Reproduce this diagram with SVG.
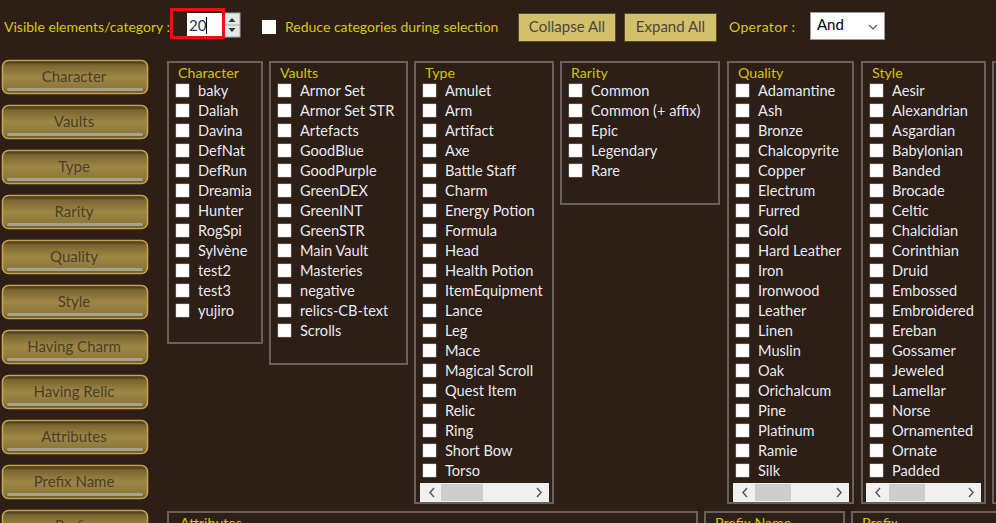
<svg xmlns="http://www.w3.org/2000/svg" width="996" height="523" viewBox="0 0 996 523">
<defs>
<linearGradient id="btn" x1="0" y1="0" x2="0" y2="1">
<stop offset="0" stop-color="#352914"/>
<stop offset="0.14" stop-color="#7a6530"/>
<stop offset="0.5" stop-color="#9e8744"/>
<stop offset="0.85" stop-color="#8c773a"/>
<stop offset="1" stop-color="#5e5028"/>
</linearGradient>
<g id="cb"><rect x="0" y="0" width="13" height="13" fill="#ffffff" stroke="#cfcfcf" stroke-width="0.5"/></g>
</defs>
<style>
.lbl{font-family:Lato,"Liberation Sans",sans-serif;font-size:14px;fill:#d9c80c}
.ttl{font-family:Lato,"Liberation Sans",sans-serif;font-size:14.2px;fill:#d7c20a}
.itm{font-family:Lato,"Liberation Sans",sans-serif;font-size:14.6px;fill:#ecebf2;paint-order:stroke;stroke:#1a1410;stroke-width:0.6px}
.bt{font-family:Lato,"Liberation Sans",sans-serif;font-size:15px;fill:#4a3f2b;text-anchor:middle}
.tb{font-family:Lato,"Liberation Sans",sans-serif;font-size:15px;fill:#4c4638;text-anchor:middle}
.pnl{fill:none;stroke:#67625c;stroke-width:2}
.sb{fill:#f0f0f0}
.th{fill:#cdcdcd}
.arr{fill:none;stroke:#606060;stroke-width:1.6}
.btnb{fill:url(#btn);stroke:#c9a24c;stroke-width:1.6}
.bar{fill:#a7a290}
</style>
<rect x="0" y="0" width="996" height="523" fill="#2d1f16"/>

<g id="toolbar">
<text class="lbl" x="4" y="32">Visible elements/category :</text>
<rect x="187" y="13" width="35" height="24" fill="#ffffff"/>
<text x="189" y="31" font-family="Lato,'Liberation Sans',sans-serif" font-size="15" fill="#2a3550">20</text>
<line x1="206.5" y1="17" x2="206.5" y2="34" stroke="#000" stroke-width="1"/>
<rect x="224" y="13" width="16" height="24" fill="#e6e6e6" stroke="#a8a8a8" stroke-width="1"/>
<line x1="224" y1="25" x2="240" y2="25" stroke="#a8a8a8" stroke-width="1"/>
<path d="M228.5 22 L232 18 L235.5 22 Z" fill="#333"/>
<path d="M228.5 28 L232 32 L235.5 28 Z" fill="#333"/>
<rect x="171.5" y="9.5" width="52" height="28" fill="none" stroke="#ee1010" stroke-width="3"/>
<rect x="262" y="20" width="14" height="14" fill="#ffffff"/>
<text class="lbl" x="285" y="32">Reduce categories during selection</text>
<g id="collapse-all"><rect x="518.5" y="13.5" width="97" height="28" fill="#d2c06c" stroke="#5a4a2c" stroke-width="1"/><text class="tb" x="567" y="32">Collapse All</text></g>
<g id="expand-all"><rect x="624.5" y="13.5" width="92" height="28" fill="#d2c06c" stroke="#5a4a2c" stroke-width="1"/><text class="tb" x="670.5" y="32">Expand All</text></g>
<text class="lbl" x="729" y="32" textLength="66">Operator :</text>
<g id="operator-select"><rect x="810.5" y="12.5" width="74" height="27" fill="#ffffff" stroke="#9a9a9a" stroke-width="1"/>
<text x="817" y="30" font-family="Lato,'Liberation Sans',sans-serif" font-size="15" fill="#000">And</text>
<path d="M869 25 L873 29 L877 25" fill="none" stroke="#555" stroke-width="1.2"/></g>
</g>

<g id="side-buttons">
<g id="btn-character"><rect class="btnb" x="2.5" y="60.5" width="145" height="33" rx="6"/><rect class="bar" x="7" y="88" width="136" height="3" rx="1.5"/><text class="bt" x="74" y="82">Character</text></g>
<g id="btn-vaults"><rect class="btnb" x="2.5" y="105.5" width="145" height="33" rx="6"/><rect class="bar" x="7" y="133" width="136" height="3" rx="1.5"/><text class="bt" x="74" y="127">Vaults</text></g>
<g id="btn-type"><rect class="btnb" x="2.5" y="150.5" width="145" height="33" rx="6"/><rect class="bar" x="7" y="178" width="136" height="3" rx="1.5"/><text class="bt" x="74" y="172">Type</text></g>
<g id="btn-rarity"><rect class="btnb" x="2.5" y="195.5" width="145" height="33" rx="6"/><rect class="bar" x="7" y="223" width="136" height="3" rx="1.5"/><text class="bt" x="74" y="217">Rarity</text></g>
<g id="btn-quality"><rect class="btnb" x="2.5" y="240.5" width="145" height="33" rx="6"/><rect class="bar" x="7" y="268" width="136" height="3" rx="1.5"/><text class="bt" x="74" y="262">Quality</text></g>
<g id="btn-style"><rect class="btnb" x="2.5" y="285.5" width="145" height="33" rx="6"/><rect class="bar" x="7" y="313" width="136" height="3" rx="1.5"/><text class="bt" x="74" y="307">Style</text></g>
<g id="btn-having-charm"><rect class="btnb" x="2.5" y="330.5" width="145" height="33" rx="6"/><rect class="bar" x="7" y="358" width="136" height="3" rx="1.5"/><text class="bt" x="74" y="352">Having Charm</text></g>
<g id="btn-having-relic"><rect class="btnb" x="2.5" y="375.5" width="145" height="33" rx="6"/><rect class="bar" x="7" y="403" width="136" height="3" rx="1.5"/><text class="bt" x="74" y="397">Having Relic</text></g>
<g id="btn-attributes"><rect class="btnb" x="2.5" y="420.5" width="145" height="33" rx="6"/><rect class="bar" x="7" y="448" width="136" height="3" rx="1.5"/><text class="bt" x="74" y="442">Attributes</text></g>
<g id="btn-prefix-name"><rect class="btnb" x="2.5" y="465.5" width="145" height="33" rx="6"/><rect class="bar" x="7" y="493" width="136" height="3" rx="1.5"/><text class="bt" x="74" y="487">Prefix Name</text></g>
<g id="btn-prefix"><rect class="btnb" x="2.5" y="510.5" width="145" height="33" rx="6"/><text class="bt" x="74" y="531">Prefix</text></g>
</g>

<g id="panel-character">
<rect class="pnl" x="168" y="62" width="94" height="281"/>
<text class="ttl" x="178" y="78">Character</text>
<use href="#cb" x="176" y="84"/><text class="itm" x="198" y="96">baky</text>
<use href="#cb" x="176" y="104"/><text class="itm" x="198" y="116">Daliah</text>
<use href="#cb" x="176" y="124"/><text class="itm" x="198" y="136">Davina</text>
<use href="#cb" x="176" y="144"/><text class="itm" x="198" y="156">DefNat</text>
<use href="#cb" x="176" y="164"/><text class="itm" x="198" y="176">DefRun</text>
<use href="#cb" x="176" y="184"/><text class="itm" x="198" y="196">Dreamia</text>
<use href="#cb" x="176" y="204"/><text class="itm" x="198" y="216">Hunter</text>
<use href="#cb" x="176" y="224"/><text class="itm" x="198" y="236">RogSpi</text>
<use href="#cb" x="176" y="244"/><text class="itm" x="198" y="256">Sylvène</text>
<use href="#cb" x="176" y="264"/><text class="itm" x="198" y="276">test2</text>
<use href="#cb" x="176" y="284"/><text class="itm" x="198" y="296">test3</text>
<use href="#cb" x="176" y="304"/><text class="itm" x="198" y="316">yujiro</text>
</g>

<g id="panel-vaults">
<rect class="pnl" x="270" y="62" width="137" height="302"/>
<text class="ttl" x="280" y="78">Vaults</text>
<use href="#cb" x="278" y="84"/><text class="itm" x="300" y="96">Armor Set</text>
<use href="#cb" x="278" y="104"/><text class="itm" x="300" y="116">Armor Set STR</text>
<use href="#cb" x="278" y="124"/><text class="itm" x="300" y="136">Artefacts</text>
<use href="#cb" x="278" y="144"/><text class="itm" x="300" y="156">GoodBlue</text>
<use href="#cb" x="278" y="164"/><text class="itm" x="300" y="176">GoodPurple</text>
<use href="#cb" x="278" y="184"/><text class="itm" x="300" y="196">GreenDEX</text>
<use href="#cb" x="278" y="204"/><text class="itm" x="300" y="216">GreenINT</text>
<use href="#cb" x="278" y="224"/><text class="itm" x="300" y="236">GreenSTR</text>
<use href="#cb" x="278" y="244"/><text class="itm" x="300" y="256">Main Vault</text>
<use href="#cb" x="278" y="264"/><text class="itm" x="300" y="276">Masteries</text>
<use href="#cb" x="278" y="284"/><text class="itm" x="300" y="296">negative</text>
<use href="#cb" x="278" y="304"/><text class="itm" x="300" y="316">relics-CB-text</text>
<use href="#cb" x="278" y="324"/><text class="itm" x="300" y="336">Scrolls</text>
</g>

<g id="panel-type">
<rect class="pnl" x="415" y="62" width="138" height="441"/>
<text class="ttl" x="425" y="78">Type</text>
<use href="#cb" x="423" y="84"/><text class="itm" x="445" y="96">Amulet</text>
<use href="#cb" x="423" y="104"/><text class="itm" x="445" y="116">Arm</text>
<use href="#cb" x="423" y="124"/><text class="itm" x="445" y="136">Artifact</text>
<use href="#cb" x="423" y="144"/><text class="itm" x="445" y="156">Axe</text>
<use href="#cb" x="423" y="164"/><text class="itm" x="445" y="176">Battle Staff</text>
<use href="#cb" x="423" y="184"/><text class="itm" x="445" y="196">Charm</text>
<use href="#cb" x="423" y="204"/><text class="itm" x="445" y="216">Energy Potion</text>
<use href="#cb" x="423" y="224"/><text class="itm" x="445" y="236">Formula</text>
<use href="#cb" x="423" y="244"/><text class="itm" x="445" y="256">Head</text>
<use href="#cb" x="423" y="264"/><text class="itm" x="445" y="276">Health Potion</text>
<use href="#cb" x="423" y="284"/><text class="itm" x="445" y="296">ItemEquipment</text>
<use href="#cb" x="423" y="304"/><text class="itm" x="445" y="316">Lance</text>
<use href="#cb" x="423" y="324"/><text class="itm" x="445" y="336">Leg</text>
<use href="#cb" x="423" y="344"/><text class="itm" x="445" y="356">Mace</text>
<use href="#cb" x="423" y="364"/><text class="itm" x="445" y="376">Magical Scroll</text>
<use href="#cb" x="423" y="384"/><text class="itm" x="445" y="396">Quest Item</text>
<use href="#cb" x="423" y="404"/><text class="itm" x="445" y="416">Relic</text>
<use href="#cb" x="423" y="424"/><text class="itm" x="445" y="436">Ring</text>
<use href="#cb" x="423" y="444"/><text class="itm" x="445" y="456">Short Bow</text>
<use href="#cb" x="423" y="464"/><text class="itm" x="445" y="476">Torso</text>
<rect class="sb" x="420" y="483" width="129" height="19"/>
<rect class="th" x="441" y="484" width="42" height="17"/>
<path class="arr" d="M434 488 L430 492.5 L434 497"/>
<path class="arr" d="M537 488 L541 492.5 L537 497"/>
</g>

<g id="panel-rarity">
<rect class="pnl" x="561" y="62" width="158" height="142"/>
<text class="ttl" x="571" y="78">Rarity</text>
<use href="#cb" x="569" y="84"/><text class="itm" x="591" y="96">Common</text>
<use href="#cb" x="569" y="104"/><text class="itm" x="591" y="116">Common (+ affix)</text>
<use href="#cb" x="569" y="124"/><text class="itm" x="591" y="136">Epic</text>
<use href="#cb" x="569" y="144"/><text class="itm" x="591" y="156">Legendary</text>
<use href="#cb" x="569" y="164"/><text class="itm" x="591" y="176">Rare</text>
</g>

<g id="panel-quality">
<rect class="pnl" x="728" y="62" width="125" height="441"/>
<text class="ttl" x="738" y="78">Quality</text>
<use href="#cb" x="736" y="84"/><text class="itm" x="758" y="96">Adamantine</text>
<use href="#cb" x="736" y="104"/><text class="itm" x="758" y="116">Ash</text>
<use href="#cb" x="736" y="124"/><text class="itm" x="758" y="136">Bronze</text>
<use href="#cb" x="736" y="144"/><text class="itm" x="758" y="156">Chalcopyrite</text>
<use href="#cb" x="736" y="164"/><text class="itm" x="758" y="176">Copper</text>
<use href="#cb" x="736" y="184"/><text class="itm" x="758" y="196">Electrum</text>
<use href="#cb" x="736" y="204"/><text class="itm" x="758" y="216">Furred</text>
<use href="#cb" x="736" y="224"/><text class="itm" x="758" y="236">Gold</text>
<use href="#cb" x="736" y="244"/><text class="itm" x="758" y="256">Hard Leather</text>
<use href="#cb" x="736" y="264"/><text class="itm" x="758" y="276">Iron</text>
<use href="#cb" x="736" y="284"/><text class="itm" x="758" y="296">Ironwood</text>
<use href="#cb" x="736" y="304"/><text class="itm" x="758" y="316">Leather</text>
<use href="#cb" x="736" y="324"/><text class="itm" x="758" y="336">Linen</text>
<use href="#cb" x="736" y="344"/><text class="itm" x="758" y="356">Muslin</text>
<use href="#cb" x="736" y="364"/><text class="itm" x="758" y="376">Oak</text>
<use href="#cb" x="736" y="384"/><text class="itm" x="758" y="396">Orichalcum</text>
<use href="#cb" x="736" y="404"/><text class="itm" x="758" y="416">Pine</text>
<use href="#cb" x="736" y="424"/><text class="itm" x="758" y="436">Platinum</text>
<use href="#cb" x="736" y="444"/><text class="itm" x="758" y="456">Ramie</text>
<use href="#cb" x="736" y="464"/><text class="itm" x="758" y="476">Silk</text>
<rect class="sb" x="733" y="483" width="116" height="19"/>
<rect class="th" x="755" y="484" width="36" height="17"/>
<path class="arr" d="M747 488 L743 492.5 L747 497"/>
<path class="arr" d="M837 488 L841 492.5 L837 497"/>
</g>

<g id="panel-style">
<rect class="pnl" x="862" y="62" width="123" height="441"/>
<text class="ttl" x="872" y="78">Style</text>
<use href="#cb" x="870" y="84"/><text class="itm" x="892" y="96">Aesir</text>
<use href="#cb" x="870" y="104"/><text class="itm" x="892" y="116">Alexandrian</text>
<use href="#cb" x="870" y="124"/><text class="itm" x="892" y="136">Asgardian</text>
<use href="#cb" x="870" y="144"/><text class="itm" x="892" y="156">Babylonian</text>
<use href="#cb" x="870" y="164"/><text class="itm" x="892" y="176">Banded</text>
<use href="#cb" x="870" y="184"/><text class="itm" x="892" y="196">Brocade</text>
<use href="#cb" x="870" y="204"/><text class="itm" x="892" y="216">Celtic</text>
<use href="#cb" x="870" y="224"/><text class="itm" x="892" y="236">Chalcidian</text>
<use href="#cb" x="870" y="244"/><text class="itm" x="892" y="256">Corinthian</text>
<use href="#cb" x="870" y="264"/><text class="itm" x="892" y="276">Druid</text>
<use href="#cb" x="870" y="284"/><text class="itm" x="892" y="296">Embossed</text>
<use href="#cb" x="870" y="304"/><text class="itm" x="892" y="316">Embroidered</text>
<use href="#cb" x="870" y="324"/><text class="itm" x="892" y="336">Ereban</text>
<use href="#cb" x="870" y="344"/><text class="itm" x="892" y="356">Gossamer</text>
<use href="#cb" x="870" y="364"/><text class="itm" x="892" y="376">Jeweled</text>
<use href="#cb" x="870" y="384"/><text class="itm" x="892" y="396">Lamellar</text>
<use href="#cb" x="870" y="404"/><text class="itm" x="892" y="416">Norse</text>
<use href="#cb" x="870" y="424"/><text class="itm" x="892" y="436">Ornamented</text>
<use href="#cb" x="870" y="444"/><text class="itm" x="892" y="456">Ornate</text>
<use href="#cb" x="870" y="464"/><text class="itm" x="892" y="476">Padded</text>
<rect class="sb" x="866" y="483" width="115" height="19"/>
<rect class="th" x="889" y="484" width="36" height="17"/>
<path class="arr" d="M880 488 L876 492.5 L880 497"/>
<path class="arr" d="M969 488 L973 492.5 L969 497"/>
</g>

<g id="panel-next">
<rect class="pnl" x="993" y="62" width="10" height="441"/>
</g>

<g id="panel-attributes">
<rect class="pnl" x="168" y="512" width="529" height="30"/>
<text class="ttl" x="180" y="528">Attributes</text>
</g>
<g id="panel-prefix-name">
<rect class="pnl" x="705" y="512" width="139" height="30"/>
<text class="ttl" x="715" y="528">Prefix Name</text>
</g>
<g id="panel-prefix">
<rect class="pnl" x="852" y="512" width="160" height="30"/>
<text class="ttl" x="862" y="528">Prefix</text>
</g>
<g id="connectors"/>
</svg>
